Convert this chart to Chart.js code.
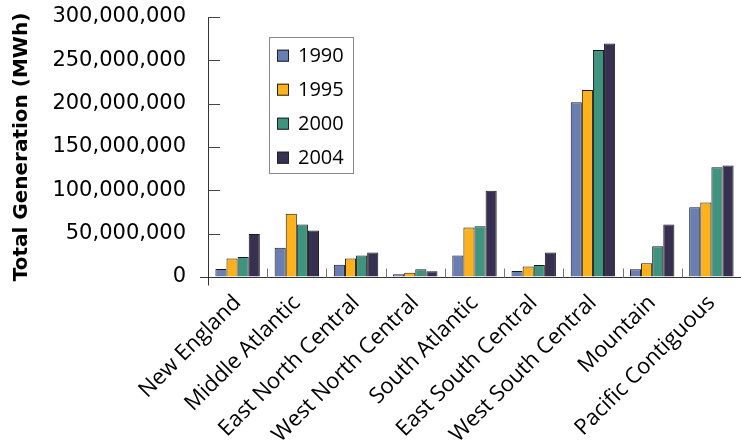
<!DOCTYPE html>
<html>
<head>
<meta charset="utf-8">
<script src="https://cdn.jsdelivr.net/npm/chart.js@4.4.1/dist/chart.umd.min.js"></script>
<style>
    html, body { margin: 0; padding: 0; background: #fff; }
    #wrap { width: 741px; height: 442px; }
</style>
</head>
<body>
<div id="wrap"><canvas id="genChart"></canvas></div>
<script>
const regions = ['New England', 'Middle Atlantic', 'East North Central', 'West North Central',
    'South Atlantic', 'East South Central', 'West South Central', 'Mountain', 'Pacific Contiguous'];
const years = ['1990', '1995', '2000', '2004'];
const gen1990 = [9200000, 33700000, 14200000, 3100000, 24900000, 6900000, 201700000, 8800000, 80400000];
const gen1995 = [21400000, 73000000, 21400000, 5000000, 57000000, 12200000, 215800000, 16000000, 86000000];
const gen2000 = [23000000, 60500000, 24900000, 8800000, 58500000, 13800000, 262000000, 35600000, 126700000];
const gen2004 = [49700000, 53600000, 28300000, 6500000, 99500000, 28300000, 269400000, 60500000, 128600000];
const yTicks = [0, 50000000, 100000000, 150000000, 200000000, 250000000, 300000000];

const colors = ['#6b7eb1', '#fdb11a', '#40937f', '#383050'];
const series = [gen1990, gen1995, gen2000, gen2004];

// legend box inside plot + inner tick marks
const decorPlugin = {
    id: 'decor',
    afterDraw(chart) {
        const ctx = chart.ctx;
        const area = chart.chartArea;
        const x = chart.scales.x;
        const y = chart.scales.y;
        ctx.save();

        // y inner ticks
        ctx.strokeStyle = '#444';
        ctx.lineWidth = 1;
        y.ticks.forEach(t => {
            if (t.value === 0) return;
            const py = Math.round(y.getPixelForValue(t.value)) + 0.5;
            ctx.beginPath();
            ctx.moveTo(area.left, py);
            ctx.lineTo(area.left + 12, py);
            ctx.stroke();
        });

        // baseline stub left of axis and axis stub below baseline
        const by = Math.round(y.getPixelForValue(0)) + 0.5;
        ctx.strokeStyle = '#333';
        ctx.beginPath();
        ctx.moveTo(area.left - 8, by);
        ctx.lineTo(area.left, by);
        ctx.moveTo(area.left + 0.5, by);
        ctx.lineTo(area.left + 0.5, by + 8);
        ctx.stroke();

        // category dividers on the baseline
        ctx.strokeStyle = '#777';
        for (let i = 1; i < regions.length; i++) {
            const px = Math.round((x.getPixelForValue(i - 1) + x.getPixelForValue(i)) / 2) + 0.5;
            ctx.beginPath();
            ctx.moveTo(px, by - 9);
            ctx.lineTo(px, by);
            ctx.stroke();
        }

        // legend
        const lx = 269.5, ly = 37.5, lw = 84, lh = 136;
        ctx.fillStyle = '#fff';
        ctx.fillRect(lx, ly, lw, lh);
        ctx.strokeStyle = '#888';
        ctx.strokeRect(lx, ly, lw, lh);
        ctx.font = '20px "Open Sans"';
        ctx.textBaseline = 'middle';
        ctx.textAlign = 'left';
        chart.data.datasets.forEach((ds, i) => {
            const cy = 55.7 + i * 34;
            ctx.fillStyle = ds.backgroundColor;
            ctx.fillRect(277, cy - 6, 12, 12);
            ctx.strokeStyle = '#222';
            ctx.strokeRect(277.5, cy - 5.5, 11, 11);
            ctx.fillStyle = '#000';
            ctx.fillText(ds.label, 298, cy + 1);
        });
        ctx.restore();
    }
};

const ctx = document.getElementById('genChart');
new Chart(ctx, {
    type: 'bar',
    data: {
        labels: regions,
        datasets: years.map((yr, i) => ({
            label: yr,
            data: series[i],
            backgroundColor: colors[i],
            borderColor: '#1a1a1a',
            borderWidth: 1,
            categoryPercentage: 0.75,
            barPercentage: 1.0
        }))
    },
    options: {
        responsive: true,
        maintainAspectRatio: false,
        animation: false,
        layout: { padding: { top: 17, right: -5, left: 0, bottom: 0 } },
        plugins: {
            legend: { display: false },
            tooltip: { enabled: false }
        },
        scales: {
            x: {
                grid: { display: false },
                border: { color: '#333', width: 1 },
                ticks: {
                    color: '#000',
                    font: { family: 'Open Sans', size: 22 },
                    maxRotation: 45,
                    minRotation: 45,
                    autoSkip: false,
                    padding: 5
                },
                afterFit(scale) { scale.height = 165; }
            },
            y: {
                min: 0,
                max: 300000000,
                afterBuildTicks(scale) { scale.ticks = yTicks.map(v => ({ value: v })); },
                grid: { display: true, drawOnChartArea: false, drawTicks: false },
                border: { color: '#333', width: 1 },
                ticks: {
                    color: '#000',
                    font: { family: 'DejaVu Sans', size: 21 },
                    padding: 22,
                    callback: v => v.toLocaleString('en-US')
                },
                title: {
                    display: true,
                    text: 'Total Generation (MWh)',
                    color: '#000',
                    font: { family: 'DejaVu Sans', size: 20, weight: 'bold' },
                    padding: { top: 10, bottom: 0 }
                },
                afterFit(scale) {
                    scale.width = 208;
                    scale.paddingTop = 8;
                    scale.paddingBottom = 8;
                }
            }
        }
    },
    plugins: [decorPlugin]
});
</script>
</body>
</html>
